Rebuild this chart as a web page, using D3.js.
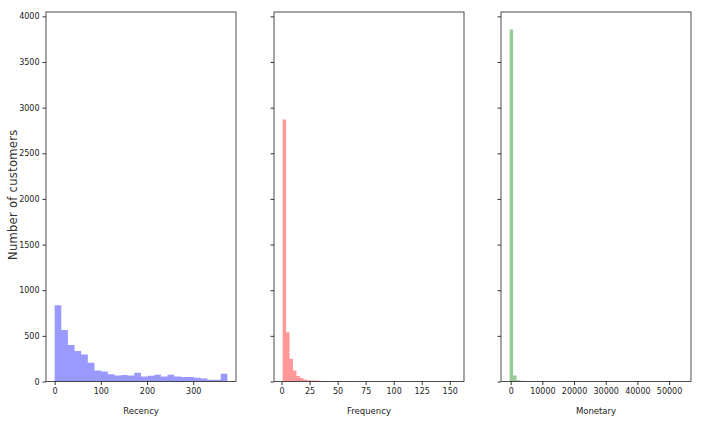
<!DOCTYPE html>
<html>
<head>
<meta charset="utf-8">
<script src="https://cdn.jsdelivr.net/npm/d3@7"></script>
<style>
  html, body { margin: 0; padding: 0; background: #fff; }
  svg { display: block; font-family: "DejaVu Sans", sans-serif; }
</style>
</head>
<body>
<svg id="chart" width="704" height="422"></svg>
<script>
// ---- data (histogram counts) ----
const panelNames = ["Recency", "Frequency", "Monetary"];
const panelColors = ["#0000ff", "#ff0000", "#008000"];

const recencyExtent = [0, 374];
const recencyCounts = [835, 565, 400, 335, 295, 205, 120, 110, 80, 65, 70, 65, 95,
  55, 62, 73, 55, 73, 55, 48, 48, 42, 33, 18, 18, 84];
const recencyTicks = [0, 100, 200, 300];

const frequencyExtent = [1, 155];
const frequencyCounts = [2870, 540, 250, 120, 60, 38, 22, 15, 12, 10, 8, 6, 5, 4, 4,
  3, 3, 2, 2, 2, 1, 1, 1, 1, 0, 1, 0, 0, 1, 0, 0, 0, 0, 0, 0, 0, 0, 0, 0, 0, 0, 0, 0, 0,
  0, 0, 0, 0, 0, 1];
const frequencyTicks = [0, 25, 50, 75, 100, 125, 150];

const monetaryExtent = [-330, 54200];
const monetaryCounts = [3855, 65, 15, 8, 5, 3, 2, 2, 1, 1, 1, 0, 1, 0, 0, 0, 0, 0, 0, 0,
  0, 0, 0, 0, 0, 0, 0, 0, 0, 0, 0, 0, 0, 0, 0, 0, 0, 0, 0, 0, 0, 0, 0, 0, 0, 0, 0, 0, 0, 1];
const monetaryTicks = [0, 10000, 20000, 30000, 40000, 50000];

const yTicks = [0, 500, 1000, 1500, 2000, 2500, 3000, 3500, 4000];
const yLabel = "Number of customers";

// ---- layout ----
const svg = d3.select("#chart");
const plotTop = 12, plotBottom = 381.5;
const panelLeft = [46, 274, 501];
const panelW = 190;

const extents = [recencyExtent, frequencyExtent, monetaryExtent];
const counts = [recencyCounts, frequencyCounts, monetaryCounts];
const ticks = [recencyTicks, frequencyTicks, monetaryTicks];

const yMax = d3.max(counts.flat()) * 1.05;
const y = d3.scaleLinear().domain([0, yMax]).range([plotBottom, plotTop]);

panelNames.forEach((name, i) => {
  const ext = extents[i];
  const pad = (ext[1] - ext[0]) * 0.05;
  const x = d3.scaleLinear().domain([ext[0] - pad, ext[1] + pad])
    .range([panelLeft[i], panelLeft[i] + panelW]);
  const n = counts[i].length;
  const bw = (ext[1] - ext[0]) / n;
  const bins = counts[i].map((c, k) => ({ x0: ext[0] + k * bw, x1: ext[0] + (k + 1) * bw, c }));

  // all bars of one histogram as one path (no seams between adjacent bars)
  const p = d3.path();
  bins.filter(b => b.c > 0).forEach(b => {
    p.rect(x(b.x0), y(b.c), x(b.x1) - x(b.x0), y(0) - y(b.c));
  });
  svg.append("path")
    .attr("d", p.toString())
    .attr("fill", panelColors[i])
    .attr("fill-opacity", 0.4);

  // x axis
  const xa = svg.append("g").attr("transform", `translate(0,${plotBottom})`)
    .call(d3.axisBottom(x).tickValues(ticks[i]).tickSize(3.5).tickPadding(3).tickFormat(d3.format("d")));
  xa.select(".domain").remove();
  xa.selectAll("line").attr("stroke", "#000").attr("stroke-width", 0.8);
  xa.selectAll("text").attr("font-size", 8).attr("fill", "#222").attr("font-family", "DejaVu Sans, sans-serif");

  // y axis
  const ya = svg.append("g").attr("transform", `translate(${panelLeft[i]},0)`)
    .call(d3.axisLeft(y).tickValues(yTicks).tickSize(3.5).tickPadding(3)
      .tickFormat(i === 0 ? d3.format("d") : () => ""));
  ya.select(".domain").remove();
  ya.selectAll("line").attr("stroke", "#000").attr("stroke-width", 0.8);
  ya.selectAll("text").attr("font-size", 8).attr("fill", "#222").attr("font-family", "DejaVu Sans, sans-serif");

  // frame
  svg.append("rect")
    .attr("x", panelLeft[i]).attr("y", plotTop)
    .attr("width", panelW).attr("height", plotBottom - plotTop)
    .attr("fill", "none").attr("stroke", "#222").attr("stroke-width", 0.8);

  // x label
  svg.append("text")
    .attr("x", panelLeft[i] + panelW / 2).attr("y", 414)
    .attr("text-anchor", "middle").attr("font-size", 8.5).attr("fill", "#222")
    .text(name);
});

svg.append("text")
  .attr("transform", `translate(17,${(plotTop + plotBottom) / 2 - 2}) rotate(-90)`)
  .attr("text-anchor", "middle").attr("font-size", 11.5).attr("fill", "#333")
  .attr("letter-spacing", 0.3)
  .text(yLabel);
</script>
</body>
</html>
